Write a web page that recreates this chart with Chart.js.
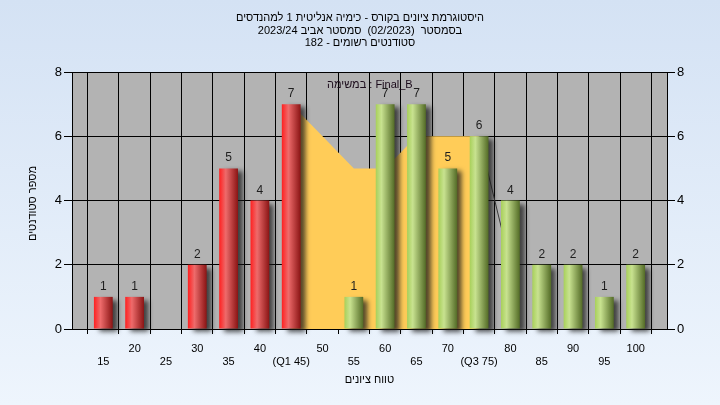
<!DOCTYPE html>
<html>
<head>
<meta charset="utf-8">
<script src="https://cdn.jsdelivr.net/npm/chart.js@4/dist/chart.umd.min.js"></script>
<style>
  html, body { margin: 0; padding: 0; }
  body { width: 720px; height: 405px; background: linear-gradient(to bottom, #d4e2f4, #eef5fd); }
  canvas { display: block; }
</style>
</head>
<body>
<canvas id="histChart" width="720" height="405"></canvas>
<script>
// grade bins (10 and 105 are empty edge slots)
const gradeBins = ['10', '15', '20', '25', '30', '35', '40', '45', '50', '55', '60', '65', '70', '75', '80', '85', '90', '95', '100', '105'];
const tickText = ['', '15', '20', '25', '30', '35', '40', '(Q1 45)', '50', '55', '60', '65', '70', '(Q3 75)', '80', '85', '90', '95', '100', ''];
const studentCounts = [0, 1, 1, 0, 2, 5, 4, 7, 0, 1, 7, 7, 5, 6, 4, 2, 2, 1, 2, 0];
// shaded band between Q1 and Q3
const bandValues = [null, null, null, null, null, null, null, 7, 6, 5, 5, 6, 6, 6, null, null, null, null, null, null];
const bandTail = [null, null, null, null, null, null, null, null, null, null, null, null, null, 6, 2, null, null, null, null, null];
const failLimit = 45;
const yTicks = [0, 2, 4, 6, 8];

const titleLines = [
    'היסטוגרמת ציונים בקורס - כימיה אנליטית 1 למהנדסים',
    'בסמסטר  (02/2023)  סמסטר אביב 2023/24',
    'סטודנטים רשומים - 182'
];
const xTitle = 'טווח ציונים';
const yTitle = 'מספר סטודנטים';
const taskLabel = 'במשימה : Final_B';

const FONT = '"Liberation Sans", "DejaVu Sans", sans-serif';

function barFill(ctx) {
    const chart = ctx.chart;
    const i = ctx.dataIndex;
    const red = Number(gradeBins[i]) <= failLimit;
    if (!chart.chartArea) return red ? '#e03030' : '#a0c858';
    const xs = chart.scales.x;
    const step = xs.getPixelForValue(1) - xs.getPixelForValue(0);
    const cx = xs.getPixelForValue(i);
    const w = step * 0.6;
    const g = chart.ctx.createLinearGradient(cx - w / 2, 0, cx + w / 2, 0);
    if (red) {
        g.addColorStop(0, '#ff2020');
        g.addColorStop(0.35, '#ee6b6b');
        g.addColorStop(1, '#8a1414');
    } else {
        g.addColorStop(0, '#a8d05a');
        g.addColorStop(0.3, '#c8e290');
        g.addColorStop(1, '#536b26');
    }
    return g;
}

const plotBg = {
    id: 'plotBg',
    beforeDraw(chart) {
        const { ctx, chartArea: a } = chart;
        ctx.save();
        ctx.fillStyle = '#b3b3b3';
        ctx.fillRect(a.left, a.top, a.right - a.left, a.bottom - a.top);
        ctx.restore();
    }
};

const barShadow = {
    id: 'barShadow',
    beforeDatasetDraw(chart, args) {
        if (args.index !== 0) return;
        const c = chart.ctx;
        c.save();
        c.shadowColor = 'rgba(25,25,25,0.75)';
        c.shadowBlur = 5;
        c.shadowOffsetX = 5;
        c.shadowOffsetY = 3;
    },
    afterDatasetDraw(chart, args) {
        if (args.index === 0) chart.ctx.restore();
    }
};

const extraText = {
    id: 'extraText',
    afterDraw(chart) {
        const { ctx, chartArea: a } = chart;
        ctx.save();
        // title block
        ctx.font = '11px ' + FONT;
        ctx.fillStyle = '#000';
        ctx.textBaseline = 'middle';
        ctx.textAlign = 'center';
        ctx.direction = 'rtl';
        titleLines.forEach((line, i) => ctx.fillText(line, 360, 18 + i * 12.5));
        // x axis title
        ctx.fillText(xTitle, (a.left + a.right) / 2, 380);
        // counts above bars
        ctx.direction = 'ltr';
        ctx.font = '12px ' + FONT;
        ctx.fillStyle = '#1e1e1e';
        ctx.textBaseline = 'alphabetic';
        chart.getDatasetMeta(0).data.forEach((el, i) => {
            if (studentCounts[i] > 0) ctx.fillText(String(studentCounts[i]), el.x, el.y - 7);
        });
        // task label
        ctx.font = '11px ' + FONT;
        ctx.fillStyle = '#1a0a1a';
        ctx.textBaseline = 'middle';
        ctx.textAlign = 'left';
        ctx.fillText(taskLabel, 327, 85);
        // y title
        ctx.translate(33, (a.top + a.bottom) / 2 + 3);
        ctx.rotate(-Math.PI / 2);
        ctx.fillStyle = '#000';
        ctx.textAlign = 'center';
        ctx.direction = 'rtl';
        ctx.fillText(yTitle, 0, 0);
        ctx.restore();
    }
};

const yTickOpts = {
    font: { family: FONT, size: 13 },
    color: '#000',
    padding: 2,
    callback: (v) => yTicks.includes(v) ? String(v) : ''
};

new Chart(document.getElementById('histChart'), {
    data: {
        labels: gradeBins,
        datasets: [
            {
                type: 'bar',
                data: studentCounts,
                backgroundColor: barFill,
                borderWidth: 0,
                barPercentage: 0.6,
                categoryPercentage: 1,
                order: 0,
                clip: false
            },
            {
                type: 'line',
                data: bandValues,
                backgroundColor: '#ffcc58',
                borderWidth: 0,
                pointRadius: 0,
                fill: 'origin',
                tension: 0,
                order: 2
            },
            {
                type: 'line',
                data: bandTail,
                borderColor: '#3a3a3a',
                borderWidth: 1,
                pointRadius: 0,
                fill: false,
                tension: 0,
                order: 1
            }
        ]
    },
    options: {
        responsive: false,
        animation: false,
        layout: { padding: { top: 72 } },
        plugins: {
            legend: { display: false },
            tooltip: { enabled: false },
            title: { display: false }
        },
        scales: {
            x: {
                type: 'category',
                offset: false,
                grid: { color: '#000', lineWidth: 1, tickLength: 5 },
                border: { color: '#000' },
                ticks: {
                    autoSkip: false,
                    maxRotation: 0,
                    font: { family: FONT, size: 11, lineHeight: 1.2 },
                    color: '#000',
                    padding: 8,
                    callback: (v, i) => i % 2 === 0 ? [tickText[i], ''] : ['', tickText[i]]
                },
                afterFit: (axis) => { axis.height = 76; }
            },
            y: {
                position: 'left',
                min: 0,
                max: 8,
                grid: { color: '#000', lineWidth: 1, tickLength: 8 },
                border: { color: '#000' },
                ticks: Object.assign({ stepSize: 2 }, yTickOpts),
                afterFit: (axis) => { axis.width = 72; }
            },
            y2: {
                position: 'right',
                min: 0,
                max: 8,
                grid: { drawOnChartArea: false, color: '#000', tickLength: 8 },
                border: { color: '#000' },
                ticks: Object.assign({ stepSize: 2 }, yTickOpts),
                afterFit: (axis) => { axis.width = 53; }
            }
        }
    },
    plugins: [plotBg, barShadow, extraText]
});
</script>
</body>
</html>
